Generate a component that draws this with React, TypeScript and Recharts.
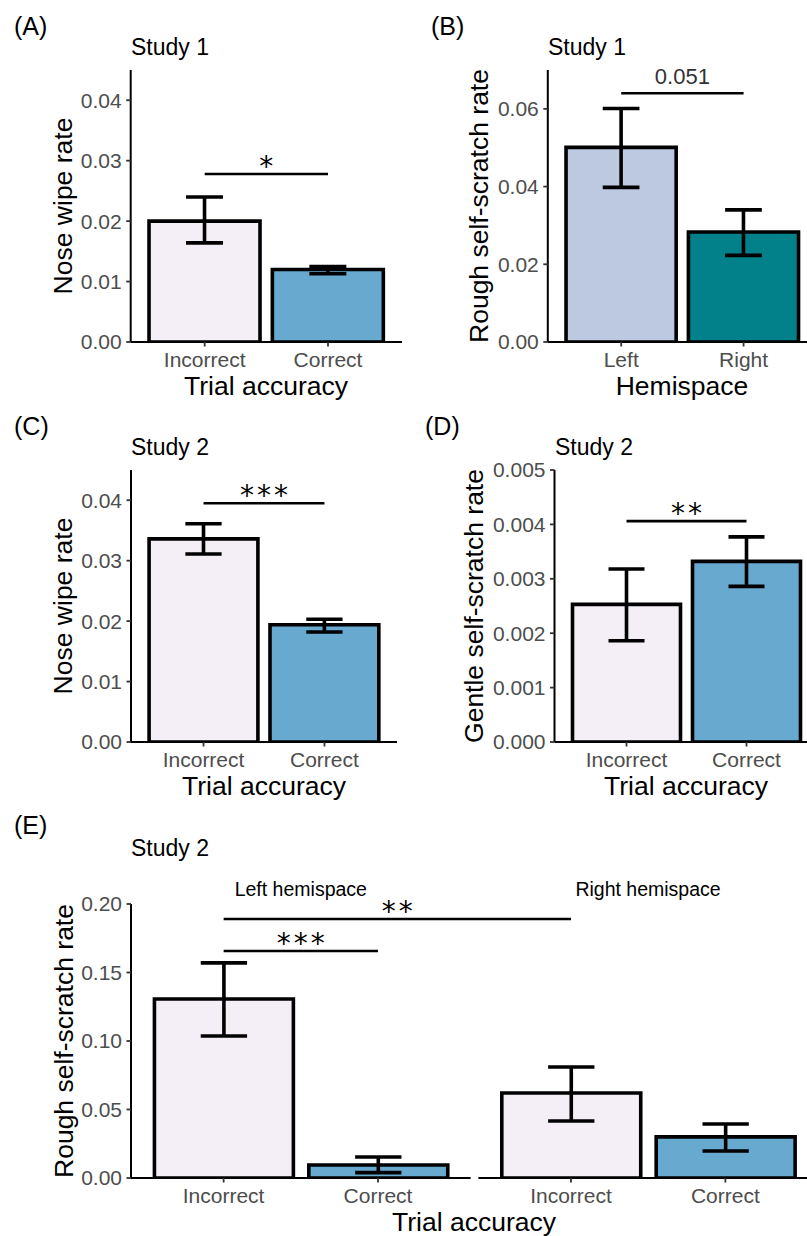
import React from 'react';
import { BarChart, Bar, XAxis, YAxis, ErrorBar, Cell, ReferenceLine } from 'recharts';

const FONT = '"Liberation Sans", Arial, Helvetica, sans-serif';
const STAR_FONT = '"DejaVu Sans", sans-serif';

const COLOR_INCORRECT = '#f4eff6';
const COLOR_CORRECT = '#67a9cf';
const COLOR_LEFT = '#bdc9e1';
const COLOR_RIGHT = '#02818a';

// categories
const accuracyLabels = ['Incorrect', 'Correct'];
const hemispaceLabels = ['Left', 'Right'];
const accuracyFills = [COLOR_INCORRECT, COLOR_CORRECT];
const hemispaceFills = [COLOR_LEFT, COLOR_RIGHT];

// Panel A – Study 1, nose wipe rate by trial accuracy
const aMean = [0.02, 0.012];
const aLower = [0.0164, 0.0113];
const aUpper = [0.024, 0.0125];
const aTicks = [0, 0.01, 0.02, 0.03, 0.04];
const aSigY = 0.0278;

// Panel B – Study 1, rough self-scratch rate by hemispace
const bMean = [0.0501, 0.0283];
const bLower = [0.0398, 0.0223];
const bUpper = [0.0601, 0.034];
const bTicks = [0, 0.02, 0.04, 0.06];
const bSigY = 0.064;

// Panel C – Study 2, nose wipe rate by trial accuracy
const cMean = [0.0336, 0.0194];
const cLower = [0.0311, 0.0182];
const cUpper = [0.0361, 0.0203];
const cTicks = [0, 0.01, 0.02, 0.03, 0.04];
const cSigY = 0.0395;

// Panel D – Study 2, gentle self-scratch rate by trial accuracy
const dMean = [0.00253, 0.00332];
const dLower = [0.00186, 0.00286];
const dUpper = [0.00318, 0.00377];
const dTicks = [0, 0.001, 0.002, 0.003, 0.004, 0.005];
const dSigY = 0.00406;

// Panel E – Study 2, rough self-scratch rate by accuracy within hemispace
const eFacets = ['Left hemispace', 'Right hemispace'];
const eMeanLeft = [0.1307, 0.0095];
const eLowerLeft = [0.1036, 0.0039];
const eUpperLeft = [0.157, 0.0153];
const eMeanRight = [0.062, 0.03];
const eLowerRight = [0.0416, 0.0197];
const eUpperRight = [0.081, 0.0394];
const eTicks = [0, 0.05, 0.1, 0.15, 0.2];
const eSigWithinY = 0.1657;
const eSigAcrossY = 0.189;

type Row = { name: string; mean: number; err: [number, number]; fill: string; pos?: number };

function buildRows(names: string[], means: number[], lowers: number[], uppers: number[], fills: string[]): Row[] {
  return names.map((n, i) => ({
    name: n,
    mean: means[i],
    err: [means[i] - lowers[i], uppers[i] - means[i]],
    fill: fills[i],
  }));
}

const BAR_STROKE = 3.6;
const ERR_STROKE = 3.6;
const SIG_STROKE = 2.6;

const tickStyle = { fill: '#4d4d4d', fontSize: 21, fontFamily: FONT };
const axisLineStyle = { stroke: '#000', strokeWidth: 2 };
const tickLineStyle = { stroke: '#333', strokeWidth: 1.8 };

function sigLabel(text: string, kind: 'star' | 'num') {
  return (props: any) => {
    const vb = props.viewBox || {};
    const x0 = Number(vb.x) || 0;
    const w = Number(vb.width) || 0;
    const cx = x0 + w / 2;
    const y = Number(vb.y) || 0;
    if (kind === 'star') {
      return (
        <text x={cx + 1.5} y={y + 2} textAnchor="middle" fontFamily={STAR_FONT} fontSize={28} letterSpacing={3} fill="#000">
          {text}
        </text>
      );
    }
    return (
      <text x={cx} y={y - 9} textAnchor="middle" fontFamily={FONT} fontSize={22} fill="#333">
        {text}
      </text>
    );
  };
}

interface CatPanelProps {
  left: number;
  top: number;
  width: number;
  yAxisWidth: number;
  rows: Row[];
  yMax: number;
  yTicks: number[];
  decimals: number;
  sigY: number;
  sigText: string;
  sigKind: 'star' | 'num';
}

function CategoryPanel(p: CatPanelProps) {
  const marginTop = 70;
  const plotH = 272;
  const xAxisH = 30;
  const height = marginTop + plotH + xAxisH;
  const plotW = p.width - p.yAxisWidth;
  const unit = plotW / (p.rows.length + 0.2);
  const pad = unit * 0.1;
  return (
    <div style={{ position: 'absolute', left: p.left, top: p.top }}>
      <BarChart
        width={p.width}
        height={height}
        data={p.rows}
        margin={{ top: marginTop, right: 0, bottom: 0, left: 0 }}
      >
        <XAxis
          dataKey="name"
          type="category"
          interval={0}
          height={xAxisH}
          padding={{ left: pad, right: pad }}
          tick={tickStyle}
          tickSize={4.5}
          tickMargin={5.5}
          axisLine={axisLineStyle}
          tickLine={tickLineStyle}
        />
        <YAxis
          type="number"
          width={p.yAxisWidth}
          domain={[0, p.yMax]}
          ticks={p.yTicks}
          allowDataOverflow
          tick={tickStyle}
          tickSize={4.5}
          tickMargin={4.5}
          axisLine={axisLineStyle}
          tickLine={tickLineStyle}
          tickFormatter={(v: number) => v.toFixed(p.decimals)}
        />
        <Bar dataKey="mean" barSize={unit * 0.9} stroke="#000" strokeWidth={BAR_STROKE} isAnimationActive={false}>
          {p.rows.map((r) => (
            <Cell key={r.name} fill={r.fill} />
          ))}
          <ErrorBar dataKey="err" width={unit * 0.15} stroke="#000" strokeWidth={ERR_STROKE} isAnimationActive={false} />
        </Bar>
        <ReferenceLine
          segment={[
            { x: p.rows[0].name, y: p.sigY },
            { x: p.rows[1].name, y: p.sigY },
          ]}
          stroke="#000"
          strokeWidth={SIG_STROKE}
          label={sigLabel(p.sigText, p.sigKind)}
        />
      </BarChart>
    </div>
  );
}

const FACET_SPAN = 2.2;
const FACET_GAP = 0.05;

function buildFacetRows(): Row[] {
  const left = buildRows(accuracyLabels, eMeanLeft, eLowerLeft, eUpperLeft, accuracyFills);
  const right = buildRows(accuracyLabels, eMeanRight, eLowerRight, eUpperRight, accuracyFills);
  return [left, right].flatMap((rows, f) =>
    rows.map((r, i) => ({ ...r, pos: f * (FACET_SPAN + FACET_GAP) + i + 1 }))
  );
}

function PanelE() {
  const rows = buildFacetRows();
  const left = 0;
  const top = 830;
  const width = 818;
  const yAxisWidth = 131;
  const marginTop = 74;
  const plotH = 274;
  const xAxisH = 30;
  const domMin = 0.4;
  const domMax = 0.4 + eFacets.length * FACET_SPAN + (eFacets.length - 1) * FACET_GAP;
  const unit = (width - yAxisWidth) / (domMax - domMin);
  const facetStarts = eFacets.map((_, f) => domMin + f * (FACET_SPAN + FACET_GAP));
  const labelFor = (v: number) => {
    const r = rows.find((row) => Math.abs((row.pos as number) - v) < 1e-6);
    return r ? r.name : '';
  };
  return (
    <div style={{ position: 'absolute', left, top }}>
      <BarChart
        width={width}
        height={marginTop + plotH + xAxisH}
        data={rows}
        margin={{ top: marginTop, right: 0, bottom: 0, left: 0 }}
      >
        <XAxis
          dataKey="pos"
          type="number"
          domain={[domMin, domMax]}
          ticks={rows.map((r) => r.pos as number)}
          interval={0}
          height={xAxisH}
          tick={tickStyle}
          tickSize={4.5}
          tickMargin={5.5}
          axisLine={false}
          tickLine={tickLineStyle}
          tickFormatter={labelFor}
        />
        <YAxis
          type="number"
          width={yAxisWidth}
          domain={[0, 0.2]}
          ticks={eTicks}
          allowDataOverflow
          tick={tickStyle}
          tickSize={4.5}
          tickMargin={4.5}
          axisLine={axisLineStyle}
          tickLine={tickLineStyle}
          tickFormatter={(v: number) => v.toFixed(2)}
        />
        <Bar dataKey="mean" barSize={unit * 0.9} stroke="#000" strokeWidth={BAR_STROKE} isAnimationActive={false}>
          {rows.map((r) => (
            <Cell key={String(r.pos)} fill={r.fill} />
          ))}
          <ErrorBar dataKey="err" width={unit * 0.15} stroke="#000" strokeWidth={ERR_STROKE} isAnimationActive={false} />
        </Bar>
        {facetStarts.map((s) => (
          <ReferenceLine
            key={'ax' + s}
            segment={[
              { x: s, y: 0 },
              { x: s + FACET_SPAN, y: 0 },
            ]}
            stroke="#000"
            strokeWidth={2}
          />
        ))}
        <ReferenceLine
          segment={[
            { x: rows[0].pos as number, y: eSigWithinY },
            { x: rows[1].pos as number, y: eSigWithinY },
          ]}
          stroke="#000"
          strokeWidth={SIG_STROKE}
          label={sigLabel('***', 'star')}
        />
        <ReferenceLine
          segment={[
            { x: rows[0].pos as number, y: eSigAcrossY },
            { x: rows[2].pos as number, y: eSigAcrossY },
          ]}
          stroke="#000"
          strokeWidth={SIG_STROKE}
          label={sigLabel('**', 'star')}
        />
      </BarChart>
    </div>
  );
}

function VText({ x, y, children }: { x: number; y: number; children: React.ReactNode }) {
  return (
    <text
      transform={`translate(${x},${y}) rotate(-90)`}
      textAnchor="middle"
      fontFamily={FONT}
      fontSize={26.5}
      fill="#000"
    >
      {children}
    </text>
  );
}

function HText({ x, y, size, anchor, children }: { x: number; y: number; size: number; anchor?: string; children: React.ReactNode }) {
  return (
    <text x={x} y={y} textAnchor={anchor || 'start'} fontFamily={FONT} fontSize={size} fill="#000">
      {children}
    </text>
  );
}

export default function App() {
  const rowsA = buildRows(accuracyLabels, aMean, aLower, aUpper, accuracyFills);
  const rowsB = buildRows(hemispaceLabels, bMean, bLower, bUpper, hemispaceFills);
  const rowsC = buildRows(accuracyLabels, cMean, cLower, cUpper, accuracyFills);
  const rowsD = buildRows(accuracyLabels, dMean, dLower, dUpper, accuracyFills);
  return (
    <div
      style={{
        position: 'absolute',
        left: 0,
        top: 0,
        width: 807,
        height: 1236,
        overflow: 'hidden',
        background: '#fff',
        fontFamily: FONT,
      }}
    >
      <CategoryPanel left={0} top={0} width={402} yAxisWidth={130.7} rows={rowsA} yMax={0.045} yTicks={aTicks} decimals={2} sigY={aSigY} sigText="*" sigKind="star" />
      <CategoryPanel left={400} top={0} width={417} yAxisWidth={147.8} rows={rowsB} yMax={0.07} yTicks={bTicks} decimals={2} sigY={bSigY} sigText="0.051" sigKind="num" />
      <CategoryPanel left={0} top={400} width={397} yAxisWidth={131} rows={rowsC} yMax={0.045} yTicks={cTicks} decimals={2} sigY={cSigY} sigText="***" sigKind="star" />
      <CategoryPanel left={400} top={400} width={418.5} yAxisWidth={154.5} rows={rowsD} yMax={0.005} yTicks={dTicks} decimals={3} sigY={dSigY} sigText="**" sigKind="star" />
      <PanelE />
      <svg width={807} height={1236} style={{ position: 'absolute', left: 0, top: 0, pointerEvents: 'none' }}>
        <HText x={14} y={35} size={25}>(A)</HText>
        <HText x={131} y={55} size={23}>Study 1</HText>
        <VText x={72} y={206}>Nose wipe rate</VText>
        <HText x={266} y={395} size={26.5} anchor="middle">Trial accuracy</HText>

        <HText x={431} y={35} size={25}>(B)</HText>
        <HText x={548} y={55} size={23}>Study 1</HText>
        <VText x={488} y={206}>Rough self-scratch rate</VText>
        <HText x={682} y={395} size={26.5} anchor="middle">Hemispace</HText>

        <HText x={14} y={435} size={25}>(C)</HText>
        <HText x={131} y={455} size={23}>Study 2</HText>
        <VText x={72} y={606}>Nose wipe rate</VText>
        <HText x={264} y={795} size={26.5} anchor="middle">Trial accuracy</HText>

        <HText x={425} y={435} size={25}>(D)</HText>
        <HText x={555} y={455} size={23}>Study 2</HText>
        <VText x={483} y={606}>Gentle self-scratch rate</VText>
        <HText x={686} y={795} size={26.5} anchor="middle">Trial accuracy</HText>

        <HText x={14} y={834} size={25}>(E)</HText>
        <HText x={131} y={856} size={23}>Study 2</HText>
        <HText x={300.8} y={896} size={19.5} anchor="middle">{eFacets[0]}</HText>
        <HText x={648} y={896} size={19.5} anchor="middle">{eFacets[1]}</HText>
        <VText x={73} y={1041}>Rough self-scratch rate</VText>
        <HText x={474} y={1231} size={26.5} anchor="middle">Trial accuracy</HText>
      </svg>
    </div>
  );
}
